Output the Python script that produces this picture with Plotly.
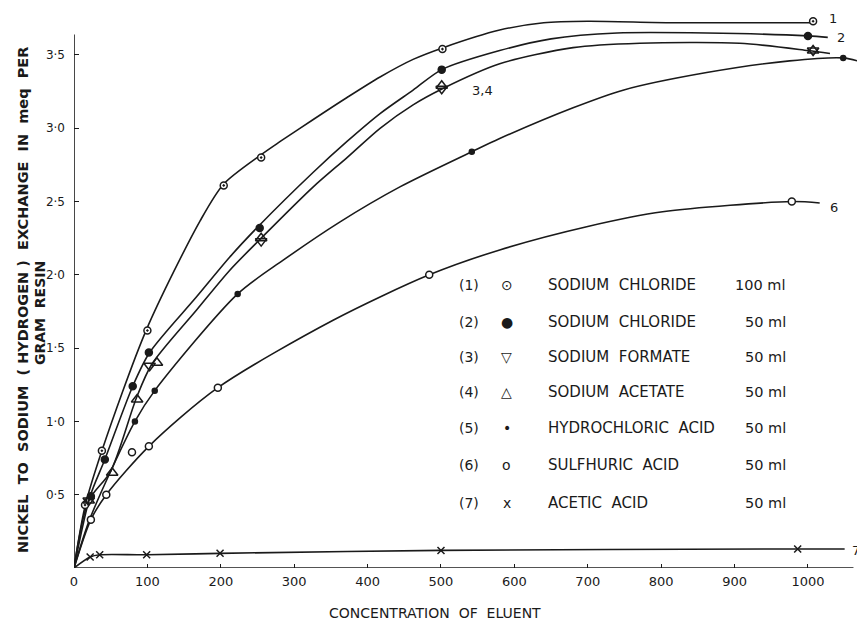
import plotly.graph_objects as go

# ---------------- data ----------------
# smooth curve knots (x = concentration, y = meq/g)
c1_x = [0, 15, 38, 99, 172, 204, 255, 281, 326, 372, 417, 462, 503, 580, 640, 700, 816, 1007]
c1_y = [0, 0.42, 0.80, 1.63, 2.37, 2.62, 2.82, 2.91, 3.06, 3.21, 3.35, 3.47, 3.55, 3.67, 3.72, 3.73, 3.72, 3.72]
c2_x = [0, 22, 42, 80, 103, 167, 212, 251, 326, 372, 417, 462, 501, 580, 650, 740, 862, 1000, 1027]
c2_y = [0, 0.49, 0.74, 1.24, 1.47, 1.85, 2.12, 2.33, 2.70, 2.91, 3.10, 3.26, 3.40, 3.53, 3.61, 3.65, 3.65, 3.63, 3.62]
c34_x = [0, 20, 50, 85, 106, 167, 212, 253, 326, 372, 417, 462, 502, 580, 680, 771, 907, 1000, 1030]
c34_y = [0, 0.46, 0.66, 1.16, 1.39, 1.76, 2.03, 2.24, 2.60, 2.80, 3.00, 3.16, 3.27, 3.44, 3.55, 3.58, 3.58, 3.53, 3.51]
c5_x = [0, 22, 83, 110, 223, 285, 362, 444, 542, 580, 680, 748, 862, 975, 1048, 1067]
c5_y = [0, 0.34, 1.00, 1.21, 1.87, 2.10, 2.36, 2.60, 2.84, 2.93, 3.14, 3.26, 3.38, 3.46, 3.48, 3.46]
c6_x = [0, 23, 44, 102, 196, 353, 484, 580, 700, 802, 978, 1016]
c6_y = [0, 0.33, 0.50, 0.83, 1.23, 1.69, 2.00, 2.17, 2.33, 2.43, 2.50, 2.49]
c7_x = [0, 22, 35, 99, 199, 500, 986, 1050]
c7_y = [0, 0.075, 0.09, 0.09, 0.10, 0.12, 0.13, 0.13]

# measured points
p1_x = [15, 38, 100, 204, 255, 502, 1007]
p1_y = [0.43, 0.80, 1.62, 2.61, 2.80, 3.54, 3.73]
p2_x = [23, 42, 80, 102, 253, 501, 1000]
p2_y = [0.49, 0.74, 1.24, 1.47, 2.32, 3.40, 3.63]
p3_x = [20, 103, 255, 501, 1007]
p3_y = [0.46, 1.38, 2.23, 3.27, 3.53]
p4_x = [20, 52, 86, 113, 255, 501, 1007]
p4_y = [0.46, 0.65, 1.15, 1.40, 2.25, 3.29, 3.53]
p5_x = [83, 110, 223, 542, 1048]
p5_y = [1.00, 1.21, 1.87, 2.84, 3.48]
p6_x = [23, 44, 79, 102, 196, 484, 978]
p6_y = [0.33, 0.50, 0.79, 0.83, 1.23, 2.00, 2.50]
p7_x = [22, 35, 99, 199, 500, 986]
p7_y = [0.075, 0.09, 0.09, 0.10, 0.12, 0.13]

x_ticks = [0, 100, 200, 300, 400, 500, 600, 700, 800, 900, 1000]
y_ticks = [0.5, 1.0, 1.5, 2.0, 2.5, 3.0, 3.5]
y_tick_text = ["0·5", "1·0", "1·5", "2·0", "2·5", "3·0", "3·5"]

legend_nums = ["(1)", "(2)", "(3)", "(4)", "(5)", "(6)", "(7)"]
legend_syms = ["⊙", "●", "▽", "△", "•", "o", "x"]
legend_names = ["SODIUM  CHLORIDE", "SODIUM  CHLORIDE", "SODIUM  FORMATE", "SODIUM  ACETATE",
                "HYDROCHLORIC  ACID", "SULFHURIC  ACID", "ACETIC  ACID"]
legend_amts = ["100 ml", "50 ml", "50 ml", "50 ml", "50 ml", "50 ml", "50 ml"]

curve_labels = ["1", "2", "3,4", "6", "7"]
curve_label_x = [1034, 1045, 557, 1035, 1066]
curve_label_y = [3.75, 3.62, 3.26, 2.46, 0.12]

X_AXIS_END = 1062
Y_AXIS_END = 3.64

# ---------------- figure ----------------
INK = "#1a1a1a"
FONT = "DejaVu Sans"
OFF = 8                      # page body margin of the browser
W, H = 865 - OFF, 621 - OFF
ML, MR, MT, MB = 74 - OFF, 2, 11 - OFF, 53
PW, PH = W - ML - MR, H - MT - MB
PLOT_LEFT, PLOT_BOTTOM = 74, 568     # screen pixels of the plot-area corner


def px(xpix):
    return (xpix - PLOT_LEFT) / PW


def py(ypix):
    return (PLOT_BOTTOM - ypix) / PH


fig = go.Figure()

for cx, cy in [(c1_x, c1_y), (c2_x, c2_y), (c34_x, c34_y), (c5_x, c5_y), (c6_x, c6_y), (c7_x, c7_y)]:
    fig.add_trace(go.Scatter(x=cx, y=cy, mode="lines",
                             line=dict(color=INK, width=1.6, shape="spline", smoothing=0.8),
                             hoverinfo="skip", showlegend=False))

CLEAR = "rgba(0,0,0,0)"
marker_specs = [
    (p1_x, p1_y, "circle-dot", 7, "white"),
    (p2_x, p2_y, "circle", 7, INK),
    (p3_x, p3_y, "triangle-down", 10, CLEAR),
    (p4_x, p4_y, "triangle-up", 10, CLEAR),
    (p5_x, p5_y, "circle", 5, INK),
    (p6_x, p6_y, "circle", 7, "white"),
    (p7_x, p7_y, "x-thin", 7, INK),
]
for mx, my, sym, size, fill in marker_specs:
    fig.add_trace(go.Scatter(x=mx, y=my, mode="markers",
                             marker=dict(symbol=sym, size=size, color=fill,
                                         line=dict(color=INK, width=1.5)),
                             showlegend=False, cliponaxis=False))

annotations = []
for t, ax_, ay_ in zip(curve_labels, curve_label_x, curve_label_y):
    annotations.append(dict(x=ax_, y=ay_, xref="x", yref="y", text=t, showarrow=False,
                            xanchor="center", yanchor="middle",
                            font=dict(family=FONT, size=13, color=INK)))

row_y = [285, 322, 357, 392, 428, 465, 503]
for i in range(7):
    yp = py(row_y[i])
    annotations.append(dict(x=px(457), y=yp, xref="paper", yref="paper", text=legend_nums[i],
                            showarrow=False, xanchor="left", yanchor="middle",
                            font=dict(family=FONT, size=14, color=INK)))
    annotations.append(dict(x=px(507), y=yp, xref="paper", yref="paper", text=legend_syms[i],
                            showarrow=False, xanchor="center", yanchor="middle",
                            font=dict(family=FONT, size=14, color=INK)))
    annotations.append(dict(x=px(546), y=yp, xref="paper", yref="paper", text=legend_names[i],
                            showarrow=False, xanchor="left", yanchor="middle",
                            font=dict(family=FONT, size=15, color=INK)))
    annotations.append(dict(x=px(733 if i == 0 else 743), y=yp, xref="paper", yref="paper",
                            text=legend_amts[i], showarrow=False, xanchor="left", yanchor="middle",
                            font=dict(family=FONT, size=14.5, color=INK)))

annotations.append(dict(x=px(23), y=py(300), xref="paper", yref="paper",
                        text="<b>NICKEL  TO  SODIUM  ( HYDROGEN )  EXCHANGE  IN  meq  PER</b>",
                        textangle=-90, showarrow=False, xanchor="center", yanchor="middle",
                        font=dict(family=FONT, size=14.5, color=INK)))
annotations.append(dict(x=px(40), y=py(313), xref="paper", yref="paper",
                        text="<b>GRAM  RESIN</b>", textangle=-90, showarrow=False,
                        xanchor="center", yanchor="middle",
                        font=dict(family=FONT, size=14, color=INK)))
annotations.append(dict(x=px(435), y=py(613), xref="paper", yref="paper",
                        text="CONCENTRATION  OF  ELUENT", showarrow=False,
                        xanchor="center", yanchor="middle",
                        font=dict(family=FONT, size=14, color=INK)))

shapes = [
    dict(type="line", xref="x", yref="y", x0=0, x1=0, y0=0, y1=Y_AXIS_END,
         line=dict(color=INK, width=1.6)),
    dict(type="line", xref="x", yref="y", x0=0, x1=X_AXIS_END, y0=0, y1=0,
         line=dict(color=INK, width=1.6)),
]

fig.update_layout(
    width=W, height=H,
    margin=dict(l=ML, r=MR, t=MT, b=MB),
    paper_bgcolor="white", plot_bgcolor="white",
    showlegend=False,
    annotations=annotations,
    shapes=shapes,
    xaxis=dict(range=[0, 1075], tickvals=x_ticks, ticktext=[str(v) for v in x_ticks],
               ticks="inside", ticklen=4, tickcolor=INK, showgrid=False, zeroline=False,
               showline=False, ticklabelstandoff=4,
               tickfont=dict(family=FONT, size=13, color=INK)),
    yaxis=dict(range=[0, 3.80], tickvals=y_ticks, ticktext=y_tick_text,
               ticks="inside", ticklen=5, tickcolor=INK, showgrid=False, zeroline=False,
               showline=False, ticklabelstandoff=8,
               tickfont=dict(family=FONT, size=12, color=INK)),
)

fig.write_html("out.html")
